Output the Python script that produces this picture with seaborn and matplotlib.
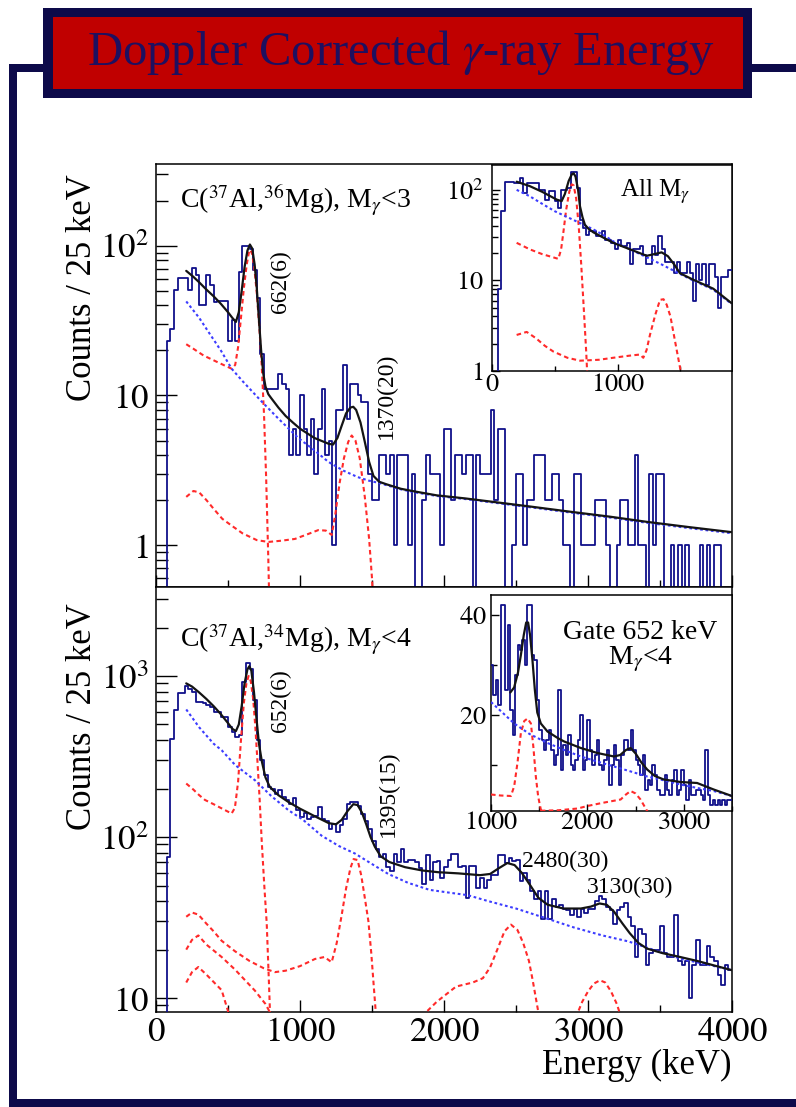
import numpy as np
import matplotlib
matplotlib.use("Agg")
import matplotlib.pyplot as plt
import seaborn as sns
from matplotlib.patches import Rectangle
from matplotlib.ticker import MultipleLocator, FixedLocator, LogLocator, NullFormatter

# ---------------------------------------------------------------- data
BIN = 25  # keV per bin

# Top panel: C(37Al,36Mg), M_gamma<3 ; bins start at 0 keV
top_counts = [
    0, 0, 0, 23, 28, 51, 61, 61, 61, 51,
    71, 64, 40, 40, 64, 55, 42, 43, 43, 43,
    23, 32, 23, 67, 100, 100, 95, 69, 45, 19,
    11, 11, 11, 11, 14, 12, 11, 4, 6, 4,
    10, 6, 4, 7, 3, 6, 11, 4, 5, 1,
    8, 8, 16, 7, 12, 12, 10, 9, 9, 3,
    2, 2, 4, 4, 3, 4, 1, 4, 4, 4,
    1, 3, 0, 0, 2, 4, 3, 3, 3, 1,
    6, 6, 2, 4, 4, 3, 4, 4, 0, 4,
    3, 3, 3, 8, 2, 6, 6, 0, 0, 1,
    3, 3, 1, 2, 2, 4, 4, 4, 2, 2,
    3, 3, 2, 1, 1, 0, 3, 3, 1, 1,
    1, 1, 2, 2, 2, 1, 0, 0, 1, 2,
    2, 1, 1, 4, 1, 1, 0, 3, 1, 3,
    3, 0, 0, 1, 0, 1, 0, 1, 0, 0,
    0, 1, 0, 1, 0, 1, 1, 0, 0, 0,
]

# Bottom panel: C(37Al,34Mg), M_gamma<4 ; bins start at 0 keV
bot_counts = [
    0, 0, 0, 75, 409, 614, 780, 780, 866, 830,
    798, 692, 692, 680, 660, 645, 600, 600, 558, 558,
    484, 450, 419, 430, 920, 1200, 1100, 708, 400, 300,
    242, 205, 200, 186, 195, 178, 170, 161, 175, 147,
    133, 142, 130, 133, 136, 154, 130, 125, 112, 120,
    107, 118, 130, 161, 165, 165, 155, 140, 125, 112,
    95, 84, 75, 78, 65, 62, 79, 70, 84, 70,
    72, 72, 70, 64, 51, 77, 54, 70, 71, 56,
    65, 72, 79, 79, 65, 66, 42, 66, 66, 48,
    56, 48, 54, 58, 58, 77, 77, 69, 74, 71,
    72, 53, 60, 54, 46, 41, 46, 31, 46, 31,
    41, 37, 38, 36, 35, 33, 36, 32, 36, 34,
    36, 36, 40, 43, 41, 37, 35, 29, 35, 37,
    39, 32, 28, 18, 27, 25, 16, 19, 20, 20,
    28, 19, 18, 18, 33, 17, 16, 17, 10, 16,
    23, 16, 16, 21, 18, 17, 14, 12, 16, 15,
]

# Inset 1: all multiplicities ; bins start at 0 keV
ins1_counts = [
    0, 0, 8, 58, 123, 123, 123, 118, 118, 134,
    92, 118, 118, 118, 118, 100, 100, 78, 96, 96,
    75, 63, 100, 100, 104, 158, 158, 104, 47, 38,
    32, 35, 35, 31, 31, 35, 28, 28, 26, 22,
    28, 24, 24, 26, 15, 22, 22, 24, 19, 15,
    15, 24, 19, 31, 22, 16, 16, 16, 12, 16,
    12, 12, 16, 12, 6, 15, 10, 15, 9, 15,
    15, 11, 5, 11, 11, 13, 13,
]

# Inset 2: gate on 652 keV ; bins start at 1000 keV
ins2_start = 1000
ins2_counts = [
    30, 24, 27, 22, 42, 42, 25, 38, 21, 16,
    28, 34, 33, 35, 30, 42, 42, 32, 31, 23,
    17, 15, 13, 15, 17, 13, 10, 12, 25, 9,
    14, 12, 16, 10, 9, 11, 15, 20, 9, 11,
    19, 13, 10, 12, 15, 10, 9, 11, 13, 6,
    10, 14, 11, 6, 12, 15, 15, 13, 17, 13,
    11, 10, 8, 12, 5, 7, 6, 10, 8, 5,
    4, 4, 8, 5, 4, 7, 9, 4, 5, 9,
    6, 3, 7, 4, 4, 5, 5, 4, 3, 13,
    4, 2, 3, 2, 3, 2, 3, 2, 3, 3,
]

# fitted curves (energy keV, counts)
top_fit = [(210, 68), (260, 62), (300, 57), (350, 51), (400, 46), (450, 41), (500, 36),
           (530, 33), (555, 31), (575, 36), (595, 50), (615, 72), (635, 93), (652, 102),
           (668, 96), (685, 75), (700, 52), (715, 32), (730, 20), (745, 14), (760, 11.5),
           (780, 10.2), (800, 9.6), (850, 8.3), (900, 7.3), (950, 6.6), (1000, 6.0),
           (1100, 5.2), (1200, 4.75), (1230, 4.7), (1260, 5.2), (1290, 6.3), (1320, 7.6),
           (1350, 8.3), (1370, 8.4), (1390, 8.0), (1420, 6.6), (1450, 4.9), (1480, 3.6),
           (1510, 2.9), (1550, 2.65), (1600, 2.55), (1700, 2.38), (1800, 2.28), (1950, 2.15),
           (2150, 2.05), (2350, 1.94), (2600, 1.81), (2880, 1.67), (3150, 1.55), (3410, 1.43),
           (3700, 1.32), (4000, 1.22)]
top_bkg = [(210, 42.5), (300, 33), (363, 26.7), (450, 20), (525, 15.1), (600, 12.5), (734, 9.1),
           (850, 7.0), (988, 5.2), (1100, 4.3), (1197, 3.6), (1300, 3.15), (1400, 2.85),
           (1475, 2.7), (1550, 2.6), (1700, 2.36), (1800, 2.25), (1950, 2.13), (2150, 2.03),
           (2350, 1.92), (2600, 1.79), (2880, 1.65), (3150, 1.53), (3410, 1.41), (3700, 1.30),
           (4000, 1.20)]
top_resp_662 = [(210, 22), (260, 20.5), (330, 18.5), (421, 16.8), (480, 15.8), (525, 15.1),
                (550, 16), (570, 21), (590, 33), (610, 52), (630, 75), (645, 90), (655, 94),
                (668, 88), (685, 68), (700, 48), (718, 28), (734, 16), (750, 7.5), (765, 2.8),
                (780, 0.8), (790, 0.3)]
top_resp_1370 = [(210, 2.1), (260, 2.3), (300, 2.25), (350, 2.0), (400, 1.75), (460, 1.5),
                 (525, 1.35), (600, 1.2), (700, 1.08), (780, 1.05), (870, 1.07), (965, 1.1),
                 (1050, 1.18), (1127, 1.26), (1180, 1.25), (1220, 1.17), (1245, 1.6), (1275, 2.6),
                 (1305, 3.8), (1335, 4.9), (1359, 5.4), (1385, 5.0), (1415, 3.8), (1450, 2.1),
                 (1480, 1.1), (1500, 0.6), (1515, 0.3)]

bot_fit = [(210, 900), (250, 860), (300, 790), (350, 720), (400, 650), (450, 580), (500, 510),
           (530, 470), (555, 455), (575, 500), (595, 650), (615, 900), (635, 1100), (648, 1150),
           (662, 1080), (680, 800), (700, 520), (715, 380), (735, 295), (760, 235), (790, 205),
           (850, 182), (920, 165), (1000, 150), (1100, 135), (1200, 122), (1250, 120),
           (1290, 128), (1330, 145), (1370, 160), (1400, 158), (1430, 142), (1460, 120),
           (1490, 100), (1520, 87), (1560, 76), (1620, 70), (1730, 65), (1850, 62), (1960, 60.5),
           (2100, 59.5), (2250, 58), (2320, 59), (2380, 64), (2440, 69), (2490, 67), (2540, 60),
           (2600, 50), (2655, 42), (2720, 38), (2830, 36), (2950, 36), (3020, 37), (3080, 38.7),
           (3130, 38), (3180, 34.5), (3240, 29), (3290, 25.3), (3350, 22), (3410, 20.3),
           (3520, 19), (3640, 18), (3760, 17), (3870, 16), (4000, 14.9)]
bot_bkg = [(210, 620), (300, 480), (400, 380), (456, 346), (550, 280), (688, 225), (800, 180),
           (919, 147), (1021, 128), (1150, 102), (1270, 88), (1382, 79), (1500, 68), (1613, 59),
           (1750, 52), (1900, 47), (2050, 45), (2164, 43.6), (2308, 40), (2500, 36), (2700, 31.5),
           (2900, 27.5), (3100, 24.5), (3280, 22.5), (3450, 20), (3650, 17.5), (3850, 16),
           (4000, 14.9)]
bot_resp_652 = [(210, 215), (260, 197), (300, 182), (340, 170), (400, 160), (460, 150), (525, 140),
                (548, 152), (570, 220), (590, 400), (610, 680), (628, 900), (643, 1000), (658, 930),
                (675, 720), (690, 480), (705, 290), (720, 170), (734, 95), (752, 50), (769, 29),
                (785, 12), (800, 5)]
bot_resp_1395 = [(210, 32), (250, 34), (294, 33), (350, 29), (400, 26), (456, 22.7), (550, 19.5),
                 (650, 17), (750, 15.3), (826, 14.5), (900, 14.8), (1000, 15.8), (1104, 17.5),
                 (1170, 18), (1220, 16.7), (1255, 22), (1290, 33), (1320, 48), (1350, 64),
                 (1372, 73), (1400, 72), (1425, 58), (1450, 42), (1475, 30), (1495, 19),
                 (1515, 11), (1532, 7), (1550, 4)]
bot_resp_2480 = [(210, 20), (250, 23), (294, 24.5), (350, 21.5), (456, 18), (550, 15), (688, 11.1),
                 (760, 9.2), (803, 7.8), (850, 6.5), (1800, 6.5), (1871, 8.1), (1950, 9.5),
                 (2084, 11.8), (2200, 12.5), (2270, 13.3), (2320, 15.5), (2370, 20), (2420, 26),
                 (2465, 28.6), (2510, 26.5), (2550, 22), (2590, 17), (2616, 12.9), (2656, 8.1),
                 (2690, 6)]
bot_resp_3130 = [(210, 12.5), (250, 14.5), (294, 15.6), (350, 14), (456, 11.2), (502, 8.2),
                 (540, 6.5), (2900, 6.5), (2921, 7.8), (2960, 9.5), (3000, 11), (3040, 12.3),
                 (3083, 12.9), (3120, 12.5), (3160, 11), (3200, 9.2), (3222, 8.0), (3250, 6.5)]

ins1_fit = [(196, 123), (300, 110), (400, 95), (515, 78), (554, 75), (580, 90), (610, 125),
            (635, 148), (650, 152), (665, 140), (685, 100), (700, 66), (720, 50), (740, 41),
            (770, 37), (806, 34), (900, 29), (965, 26), (1100, 22), (1231, 18.7), (1290, 19.5),
            (1350, 20.4), (1400, 18.5), (1450, 15), (1496, 12), (1600, 10.2), (1761, 8.1),
            (1907, 5.6)]
ins1_bkg = [(196, 100), (300, 85), (400, 70), (500, 58), (600, 50), (700, 43), (800, 37),
            (900, 31), (965, 27), (1100, 22), (1231, 18), (1350, 15), (1496, 11.8), (1600, 10),
            (1761, 7.9), (1907, 5.5)]
ins1_resp_662 = [(196, 26), (302, 22), (400, 19.5), (528, 17.3), (550, 22), (568, 34), (590, 60),
                 (615, 95), (634, 115), (650, 112), (670, 80), (690, 40), (710, 15), (730, 5),
                 (750, 1.6), (760, 0.8)]
ins1_resp_1370 = [(196, 2.5), (276, 2.7), (350, 2.3), (420, 1.9), (488, 1.64), (600, 1.4),
                  (700, 1.3), (850, 1.33), (965, 1.4), (1100, 1.48), (1178, 1.52), (1204, 1.4),
                  (1230, 1.7), (1257, 2.5), (1300, 4.2), (1337, 6.1), (1365, 6.2), (1390, 5.4),
                  (1420, 4.0), (1443, 2.7), (1470, 1.7), (1496, 1.1), (1520, 0.7)]

ins2_fit = [(1200, 24.5), (1240, 25.5), (1280, 28.5), (1310, 32), (1340, 36), (1365, 38.5),
            (1385, 38.5), (1405, 36), (1430, 31), (1455, 25), (1480, 20.5), (1517, 18.3),
            (1586, 16.7), (1700, 15.3), (1759, 14.7), (1931, 13.4), (2103, 12.4), (2276, 11.7),
            (2340, 12), (2400, 13), (2448, 13.4), (2500, 12.3), (2560, 10.5), (2620, 9.1),
            (2700, 7.8), (2793, 7.1), (2965, 6.6), (3138, 6.4), (3310, 5.1), (3499, 3.8)]
ins2_bkg = [(1000, 22.6), (1241, 18.3), (1400, 16.2), (1586, 14.4), (1760, 13.0), (1931, 11.7),
            (2100, 10.7), (2276, 9.7), (2450, 8.7), (2620, 7.7), (2800, 6.9), (2965, 6.1),
            (3140, 5.4), (3310, 4.8), (3499, 3.8)]
ins2_resp_1395 = [(1000, 4.1), (1100, 3.9), (1207, 3.8), (1241, 5.8), (1275, 10.5), (1310, 16.4),
                  (1345, 18.8), (1379, 19.3), (1414, 18.3), (1440, 13.5), (1465, 7.7), (1490, 3.6),
                  (1517, 1.1), (1540, 0.3)]
ins2_resp_2480 = [(1517, 0.85), (1700, 0.95), (1900, 1.3), (2000, 1.8), (2150, 2.4), (2345, 3.1),
                  (2400, 4.1), (2448, 4.8), (2500, 4.3), (2551, 3.1), (2590, 1.8), (2620, 0.8),
                  (2640, 0.3)]

# peak labels (energy, counts, text)
top_peaks = [(861, 57.5, "662(6)"), (1597, 10.0, "1370(20)")]
bot_peaks_rot = [(861, 700, "652(6)"), (1611, 187, "1395(15)")]
bot_peaks_hor = [(2840, 71, "2480(30)"), (3292, 49, "3130(30)")]

# ---------------------------------------------------------------- style
sns.set_theme(style="ticks")
plt.rcParams["font.family"] = ["Liberation Serif", "DejaVu Serif"]
plt.rcParams["mathtext.fontset"] = "stix"
plt.rcParams["axes.edgecolor"] = "black"
plt.rcParams["axes.linewidth"] = 1.1
plt.rcParams["xtick.color"] = "black"
plt.rcParams["ytick.color"] = "black"
plt.rcParams["text.color"] = "black"
plt.rcParams["axes.labelcolor"] = "black"

HIST_C = "#10108a"
FIT_C = "#141414"
BKG_C = "#3c3cff"
RESP_C = "#ff2a2a"
NAVY = "#0d0a4a"
TITLE_RED = "#c00000"
TITLE_TXT = "#1e1060"
RESP_LS = (0, (2.2, 1.6))
BKG_LS = (0, (1.3, 1.3))

W, H = 796, 1107
fig = plt.figure(figsize=(W / 100, H / 100), dpi=100)
fig.patch.set_facecolor("white")


def px_axes(l, t, r, b, z=1):
    return fig.add_axes([l / W, 1 - b / H, (r - l) / W, (b - t) / H], zorder=z)


def draw_hist(ax, start, counts, floor=None):
    c = np.asarray(counts, dtype=float)
    edges = start + BIN * np.arange(len(c) + 1)
    y = np.append(c, c[-1])
    if floor is not None:
        y = np.where(y > 0, y, floor)
    sns.lineplot(x=edges, y=y, ax=ax, drawstyle="steps-post", color=HIST_C, lw=1.3,
                 estimator=None, legend=False, zorder=3)


def draw_curve(ax, pts, color, ls, lw=1.5, z=4):
    a = np.asarray(pts, dtype=float)
    sns.lineplot(x=a[:, 0], y=a[:, 1], ax=ax, color=color, linestyle=ls, lw=lw,
                 estimator=None, legend=False, zorder=z)


def style(ax, lsize, ymaj, ymin, xmaj, xmin, xpad, ypad):
    ax.tick_params(axis="both", which="both", direction="in", top=False, right=False,
                   bottom=True, left=True, width=1.0)
    ax.tick_params(axis="y", which="major", length=ymaj, pad=ypad, labelsize=lsize)
    ax.tick_params(axis="y", which="minor", length=ymin)
    ax.tick_params(axis="x", which="major", length=xmaj, pad=xpad, labelsize=lsize)
    ax.tick_params(axis="x", which="minor", length=xmin)
    for s in ax.spines.values():
        s.set_color("black")
        s.set_linewidth(1.1)
    ax.set_xlabel("")
    ax.set_ylabel("")


def log_ticks(ax, vals, labels):
    ax.set_yscale("log")
    ax.yaxis.set_major_locator(FixedLocator(vals))
    ax.set_yticklabels(labels)
    ax.yaxis.set_minor_locator(LogLocator(base=10, subs=np.arange(2, 10) * 1.0, numticks=100))
    ax.yaxis.set_minor_formatter(NullFormatter())


# ---------------------------------------------------------------- background frame
bg = fig.add_axes([0, 0, 1, 1], zorder=-5)
bg.set_xlim(0, W)
bg.set_ylim(H, 0)
bg.axis("off")
for (x0, y0, w, h) in [(9, 64, 8, 1043), (9, 64, 36, 8), (750, 64, 46, 8), (9, 1099, 787, 8)]:
    bg.add_patch(Rectangle((x0, y0), w, h, facecolor=NAVY, edgecolor="none"))
bg.add_patch(Rectangle((43, 8), 709, 90, facecolor=NAVY, edgecolor="none"))
bg.add_patch(Rectangle((53, 17), 690, 72, facecolor=TITLE_RED, edgecolor="none"))
bg.text(401, 65, r"Doppler Corrected $\gamma$-ray Energy", ha="center", va="baseline",
        fontsize=35, color=TITLE_TXT)

# ---------------------------------------------------------------- top main panel
ax1 = px_axes(156, 164, 732, 587, z=1)
ax1.set_yscale("log")
draw_hist(ax1, 0, top_counts, floor=1e-3)
draw_curve(ax1, top_resp_662, RESP_C, RESP_LS)
draw_curve(ax1, top_resp_1370, RESP_C, RESP_LS)
draw_curve(ax1, top_bkg, BKG_C, BKG_LS)
draw_curve(ax1, top_fit, FIT_C, "-", lw=1.6, z=5)
ax1.set_xlim(0, 4000)
ax1.set_ylim(0.525, 352)
log_ticks(ax1, [1, 10, 100], [r"$1$", r"$10$", r"$10^{2}$"])
ax1.xaxis.set_major_locator(MultipleLocator(1000))
ax1.xaxis.set_minor_locator(MultipleLocator(500))
style(ax1, 25, 15, 8.5, 8.5, 5, 3, 5)
ax1.tick_params(labelbottom=False)
ax1.set_ylabel("Counts / 25 keV", fontsize=25, va="center")
ax1.yaxis.set_label_coords(-0.128, 0.708)
ax1.text(0.042, 0.913, r"C($^{37}$Al,$^{36}$Mg), M$_{\gamma}$<3", transform=ax1.transAxes,
         ha="left", va="center", fontsize=20)
for e, v, t in top_peaks:
    ax1.text(e, v, t, rotation=90, ha="center", va="center", fontsize=17)

# ---------------------------------------------------------------- bottom main panel
ax2 = px_axes(156, 587, 732, 1012, z=1)
ax2.set_yscale("log")
draw_hist(ax2, 0, bot_counts, floor=1e-2)
for r in (bot_resp_652, bot_resp_1395, bot_resp_2480, bot_resp_3130):
    draw_curve(ax2, r, RESP_C, RESP_LS)
draw_curve(ax2, bot_bkg, BKG_C, BKG_LS)
draw_curve(ax2, bot_fit, FIT_C, "-", lw=1.6, z=5)
ax2.set_xlim(0, 4000)
ax2.set_ylim(8.2, 3570)
log_ticks(ax2, [10, 100, 1000], [r"$10$", r"$10^{2}$", r"$10^{3}$"])
ax2.xaxis.set_major_locator(MultipleLocator(1000))
ax2.xaxis.set_minor_locator(MultipleLocator(500))
ax2.set_xticks([0, 1000, 2000, 3000, 4000], [r"$0$", r"$1000$", r"$2000$", r"$3000$", r"$4000$"])
style(ax2, 25, 15, 8.5, 8.5, 5, 3, 5)
ax2.set_ylabel("Counts / 25 keV", fontsize=25, va="center")
ax2.yaxis.set_label_coords(-0.128, 0.694)
ax2.set_xlabel("Energy (keV)", fontsize=25, ha="right", va="center")
ax2.xaxis.set_label_coords(1.0, -0.127)
ax2.text(0.042, 0.875, r"C($^{37}$Al,$^{34}$Mg), M$_{\gamma}$<4", transform=ax2.transAxes,
         ha="left", va="center", fontsize=20)
for e, v, t in bot_peaks_rot:
    ax2.text(e, v, t, rotation=90, ha="center", va="center", fontsize=17)
for e, v, t in bot_peaks_hor:
    ax2.text(e, v, t, ha="center", va="center", fontsize=17)

# ---------------------------------------------------------------- inset 1
ax3 = px_axes(492, 165, 732, 371, z=3)
ax3.set_facecolor("white")
ax3.set_yscale("log")
draw_hist(ax3, 0, ins1_counts, floor=1e-3)
draw_curve(ax3, ins1_resp_662, RESP_C, RESP_LS)
draw_curve(ax3, ins1_resp_1370, RESP_C, RESP_LS)
draw_curve(ax3, ins1_bkg, BKG_C, BKG_LS)
draw_curve(ax3, ins1_fit, FIT_C, "-", lw=1.6, z=5)
ax3.set_xlim(0, 1910)
ax3.set_ylim(1.0, 188)
log_ticks(ax3, [1, 10, 100], [r"$1$", r"$10$", r"$10^{2}$"])
ax3.set_xticks([0, 1000], [r"$0$", r"$1000$"])
ax3.xaxis.set_minor_locator(MultipleLocator(500))
style(ax3, 19, 6, 4, 5, 3.5, 2, 6)
ax3.text(0.68, 0.87, r"All M$_{\gamma}$", transform=ax3.transAxes, ha="center", va="center",
         fontsize=18)

# ---------------------------------------------------------------- inset 2
ax4 = px_axes(491, 595, 732, 811, z=3)
ax4.set_facecolor("white")
draw_hist(ax4, ins2_start, ins2_counts)
draw_curve(ax4, ins2_resp_1395, RESP_C, RESP_LS)
draw_curve(ax4, ins2_resp_2480, RESP_C, RESP_LS)
draw_curve(ax4, ins2_bkg, BKG_C, BKG_LS)
draw_curve(ax4, ins2_fit, FIT_C, "-", lw=1.6, z=5)
ax4.set_xlim(1000, 3500)
ax4.set_ylim(0.8, 44)
ax4.set_xticks([1000, 2000, 3000], [r"$1000$", r"$2000$", r"$3000$"])
ax4.xaxis.set_minor_locator(MultipleLocator(500))
ax4.set_yticks([20, 40], [r"$20$", r"$40$"])
ax4.yaxis.set_minor_locator(MultipleLocator(10))
style(ax4, 19, 6, 4, 5, 3.5, 1, 3)
ax4.text(0.62, 0.76, "Gate 652 keV\n" + r"M$_{\gamma}$<4", transform=ax4.transAxes,
         ha="center", va="center", fontsize=20, linespacing=1.0)

fig.savefig("out.png", dpi=100, facecolor="white")
